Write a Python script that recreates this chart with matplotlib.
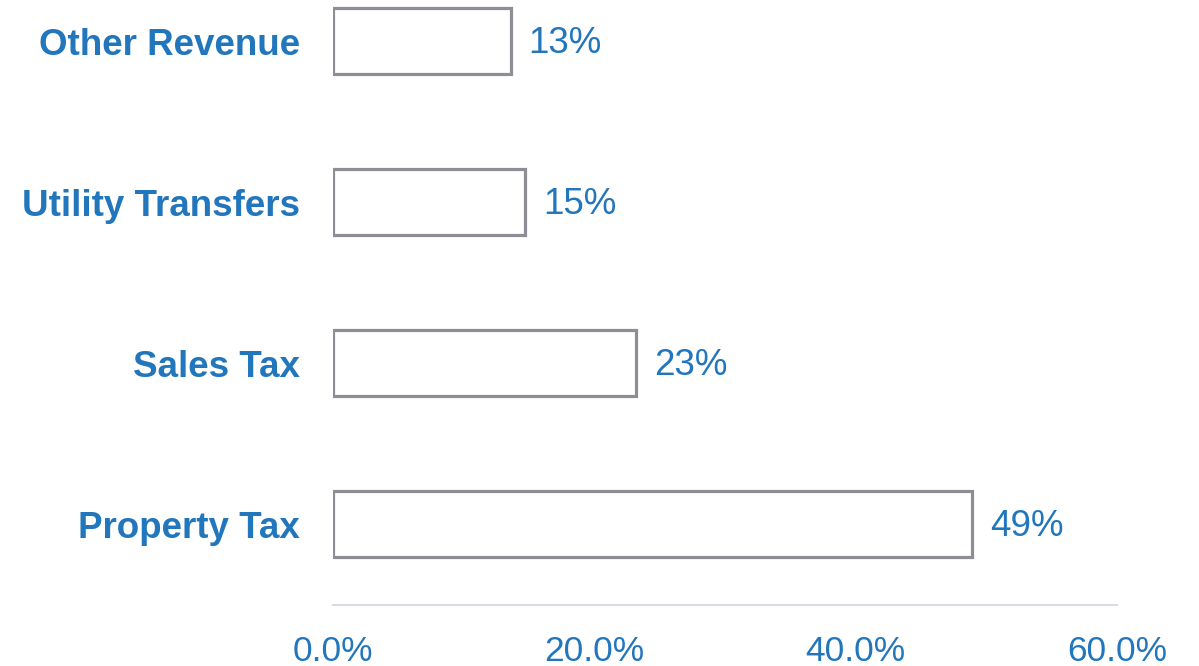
import matplotlib.pyplot as plt

categories = ['Property Tax', 'Sales Tax', 'Utility Transfers', 'Other Revenue']
shares = [48.9, 23.2, 14.7, 13.6]
share_labels = ['49%', '23%', '15%', '13%']
tick_values = [0, 20, 40, 60]
tick_labels = ['0.0%', '20.0%', '40.0%', '60.0%']

blue = '#2176BC'
edge = '#8F8E96'

plt.rcParams['font.family'] = ['Liberation Sans', 'DejaVu Sans']

fig = plt.figure(figsize=(11.99, 6.66), dpi=100)
ax = fig.add_axes([0.2777, 0.0916, 0.6539, 0.9084])

pos = list(range(len(categories)))
ax.barh(pos, shares, height=0.41, color='white', edgecolor=edge, linewidth=2.3)

for p, v, t in zip(pos, shares, share_labels):
    ax.annotate(t, (v, p), xytext=(13, -1.5), textcoords='offset points',
                va='center', ha='left', color=blue, fontsize=26.5)

ax.set_xlim(0, 60)
ax.set_ylim(-0.5, 3.255)
ax.set_yticks(pos)
ax.set_yticklabels(categories, fontsize=26.5, fontweight='bold', color=blue)
ax.set_xticks(tick_values)
ax.set_xticklabels(tick_labels, fontsize=25.5, color=blue)
ax.tick_params(axis='both', length=0)
ax.tick_params(axis='y', pad=24)
ax.tick_params(axis='x', pad=21.5)

for s in ['top', 'right', 'left']:
    ax.spines[s].set_visible(False)
ax.spines['bottom'].set_color('#D9DCE6')
ax.spines['bottom'].set_linewidth(1.5)

fig.savefig('out.png', dpi=100)
